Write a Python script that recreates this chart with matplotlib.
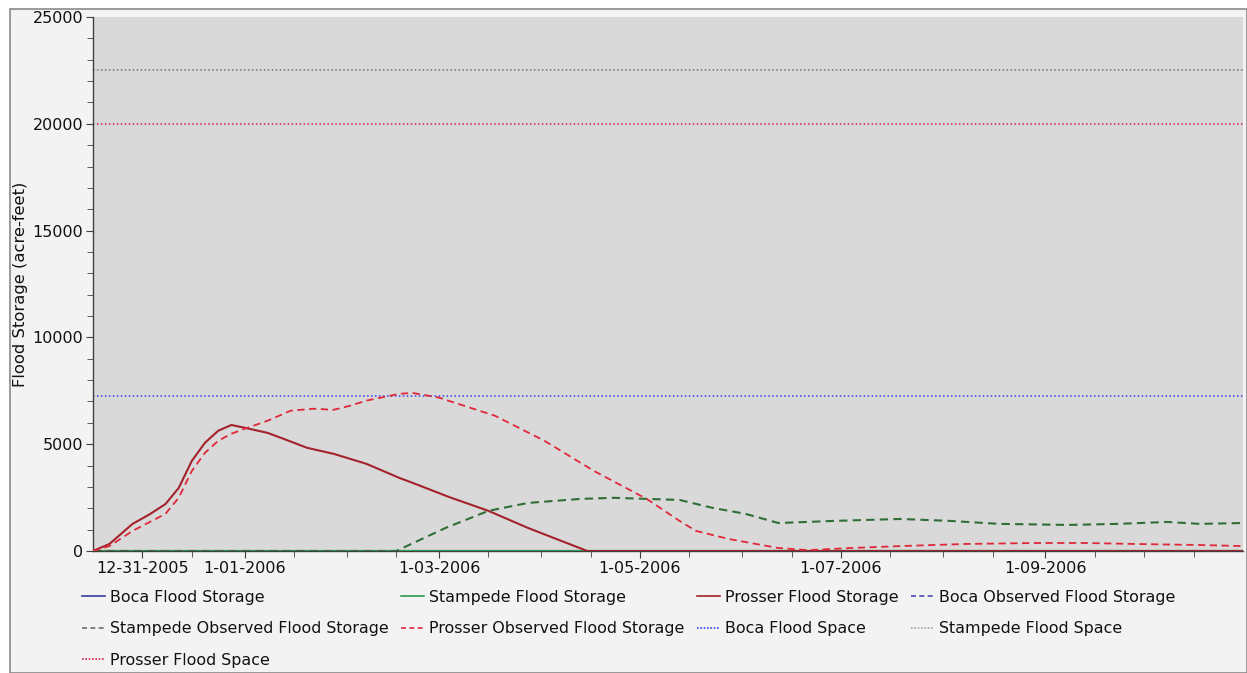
import matplotlib
matplotlib.use("Agg")
import matplotlib.pyplot as plt
from matplotlib.patches import Rectangle
from matplotlib.lines import Line2D
import pandas as pd
import numpy as np

# ---------------- data ----------------
x_start = "2005-11-16"
x_end = "2006-10-31"

prosser_dates = ["2005-11-16", "2005-11-21", "2005-11-28", "2005-12-03", "2005-12-08",
                 "2005-12-12", "2005-12-16", "2005-12-20", "2005-12-24", "2005-12-28",
                 "2006-01-01", "2006-01-08", "2006-01-12", "2006-01-20", "2006-01-28",
                 "2006-02-07", "2006-02-17", "2006-02-21", "2006-03-04", "2006-03-16",
                 "2006-03-28", "2006-04-15", "2006-10-31"]
prosser_storage = [0, 330, 1270, 1700, 2200, 2950, 4220, 5070, 5630, 5900,
                   5770, 5530, 5300, 4830, 4550, 4080, 3420, 3190, 2530, 1880,
                   1080, 0, 0]

prosser_obs_dates = ["2005-11-16", "2005-11-21", "2005-11-28", "2005-12-08", "2005-12-12",
                     "2005-12-16", "2005-12-20", "2005-12-24", "2005-12-28", "2006-01-01",
                     "2006-01-08", "2006-01-15", "2006-01-22", "2006-01-28", "2006-02-02",
                     "2006-02-07", "2006-02-17", "2006-02-21", "2006-03-01", "2006-03-18",
                     "2006-04-02", "2006-04-17", "2006-05-03", "2006-05-13", "2006-05-18",
                     "2006-05-28", "2006-06-12", "2006-06-21", "2006-07-04", "2006-07-19",
                     "2006-08-08", "2006-08-29", "2006-09-13", "2006-09-28", "2006-10-18",
                     "2006-10-31"]
prosser_observed = [0, 230, 940, 1740, 2490, 3750, 4600, 5160, 5490, 5720,
                    6100, 6570, 6660, 6610, 6800, 7040, 7360, 7400, 7180, 6330,
                    5160, 3750, 2440, 1410, 940, 560, 140, 40, 140, 230,
                    330, 375, 375, 330, 280, 230]

stampede_obs_dates = ["2005-11-16", "2006-02-16", "2006-03-03", "2006-03-16", "2006-03-28",
                      "2006-04-13", "2006-04-23", "2006-05-03", "2006-05-13", "2006-05-23",
                      "2006-06-02", "2006-06-12", "2006-06-29", "2006-07-19", "2006-08-03",
                      "2006-08-18", "2006-09-08", "2006-09-23", "2006-10-08", "2006-10-18",
                      "2006-10-31"]
stampede_observed = [0, 0, 1080, 1880, 2250, 2440, 2490, 2440, 2390, 2020,
                     1740, 1310, 1410, 1500, 1410, 1270, 1220, 1270, 1360, 1270,
                     1310]

zero_dates = ["2005-11-16", "2006-10-31"]
boca_storage = [0, 0]
stampede_storage = [0, 0]
boca_observed = [0, 0]

boca_space = 7250
stampede_space = 22500
prosser_space = 20000

tick_dates = ["2005-12-01", "2006-01-01", "2006-03-01", "2006-05-01", "2006-07-01", "2006-09-01"]
tick_labels = ["12-31-2005", "1-01-2006", "1-03-2006", "1-05-2006", "1-07-2006", "1-09-2006"]
y_ticks = [0, 5000, 10000, 15000, 20000, 25000]
y_label = "Flood Storage (acre-feet)"

names = ["Boca Flood Storage", "Stampede Flood Storage", "Prosser Flood Storage",
         "Boca Observed Flood Storage", "Stampede Observed Flood Storage",
         "Prosser Observed Flood Storage", "Boca Flood Space", "Stampede Flood Space",
         "Prosser Flood Space"]

# ---------------- figure ----------------
W, H = 1247, 673
fig = plt.figure(figsize=(W / 100, H / 100), dpi=100)
fig.patch.set_facecolor("white")

# outer panel and border
fig.add_artist(Rectangle((10 / W, 0), (W - 10) / W, (H - 9) / H, transform=fig.transFigure,
                         facecolor="#f3f3f3", edgecolor="#8a8a8a", lw=1.2, zorder=0))

L, R, T, B = 93, 1243, 17, 551
ax = fig.add_axes([L / W, 1 - B / H, (R - L) / W, (B - T) / H])
ax.set_facecolor("#d9d9d9")

def d(lst):
    return pd.to_datetime(lst)

col = {
    "boca": "#3a3a9a",
    "stamp": "#2e9a4e",
    "prosser": "#a3222c",
    "boca_obs": "#4a4ab8",
    "stamp_obs": "#2f6e37",
    "prosser_obs": "#e0283a",
    "boca_space": "#3c3cf0",
    "stamp_space": "#6a7a6a",
    "prosser_space": "#d4204a",
}

ax.axhline(prosser_space, color=col["prosser_space"], ls=(0, (1, 1.6)), lw=1.1, zorder=2)
ax.axhline(stampede_space, color=col["stamp_space"], ls=(0, (1, 1.6)), lw=1.1, zorder=2)
ax.axhline(boca_space, color=col["boca_space"], ls=(0, (1, 1.6)), lw=1.1, zorder=2)

ax.plot(d(zero_dates), boca_storage, color=col["boca"], lw=1.8, zorder=3)
ax.plot(d(zero_dates), boca_observed, color=col["boca_obs"], lw=1.8, ls=(0, (4, 2)), zorder=3)
ax.plot(d(zero_dates), stampede_storage, color=col["stamp"], lw=1.6, zorder=3)
ax.plot(d(stampede_obs_dates), stampede_observed, color=col["stamp_obs"], lw=1.5,
        ls=(0, (4, 2.5)), zorder=4)
ax.plot(d(prosser_dates), prosser_storage, color=col["prosser"], lw=1.5, zorder=5)
ax.plot(d(prosser_obs_dates), prosser_observed, color=col["prosser_obs"], lw=1.3,
        ls=(0, (4, 2.5)), zorder=6)

ax.set_xlim(pd.Timestamp(x_start), pd.Timestamp(x_end))
ax.set_ylim(0, 25000)

ax.set_xticks(d(tick_dates))
ax.set_xticklabels(tick_labels)
minor = [pd.Timestamp(f"{y}-{m:02d}-{dd:02d}") for y, m in [(2005, 12)] + [(2006, k) for k in range(1, 11)]
         for dd in (1, 16)]
ax.set_xticks(minor, minor=True)
ax.set_yticks(y_ticks)
ax.set_yticks(np.arange(0, 25001, 1000), minor=True)

for s in ("top", "right"):
    ax.spines[s].set_visible(False)
for s in ("left", "bottom"):
    ax.spines[s].set_color("#404040")
    ax.spines[s].set_linewidth(1.0)

ax.tick_params(axis="both", which="major", length=5, color="#404040", labelsize=11.5,
               labelcolor="#111111", pad=2)
ax.tick_params(axis="both", which="minor", length=4, color="#404040")
ax.set_ylabel(y_label, fontsize=11.8, color="#111111")
ax.yaxis.set_label_coords((28 - L) / (R - L), 0.5)

# ---------------- legend ----------------
handles = {
    names[0]: Line2D([], [], color=col["boca"], lw=1.2),
    names[1]: Line2D([], [], color=col["stamp"], lw=1.2),
    names[2]: Line2D([], [], color=col["prosser"], lw=1.2),
    names[3]: Line2D([], [], color=col["boca_obs"], lw=1.2, ls=(0, (3, 2))),
    names[4]: Line2D([], [], color="#707070", lw=1.2, ls=(0, (3, 2))),
    names[5]: Line2D([], [], color=col["prosser_obs"], lw=1.2, ls=(0, (3, 2))),
    names[6]: Line2D([], [], color=col["boca_space"], lw=1.2, ls=(0, (1, 1))),
    names[7]: Line2D([], [], color="#a0a0a0", lw=1.2, ls=(0, (1, 1))),
    names[8]: Line2D([], [], color=col["prosser_space"], lw=1.2, ls=(0, (1, 1))),
}
# matplotlib fills columns first: reorder so rows read like the reference
order = [names[0], names[4], names[8], names[1], names[5], names[2], names[6], names[3], names[7]]
leg = fig.legend([handles[n] for n in order], order, ncol=4, loc="upper left",
                 bbox_to_anchor=(82 / W, 1 - 590 / H), frameon=False, fontsize=11.4,
                 handlelength=1.45, handletextpad=0.3, columnspacing=0.8,
                 labelspacing=1.03, borderpad=0, borderaxespad=0)
for t in leg.get_texts():
    t.set_color("#111111")

fig.savefig("out.png", dpi=100, facecolor=fig.get_facecolor())
